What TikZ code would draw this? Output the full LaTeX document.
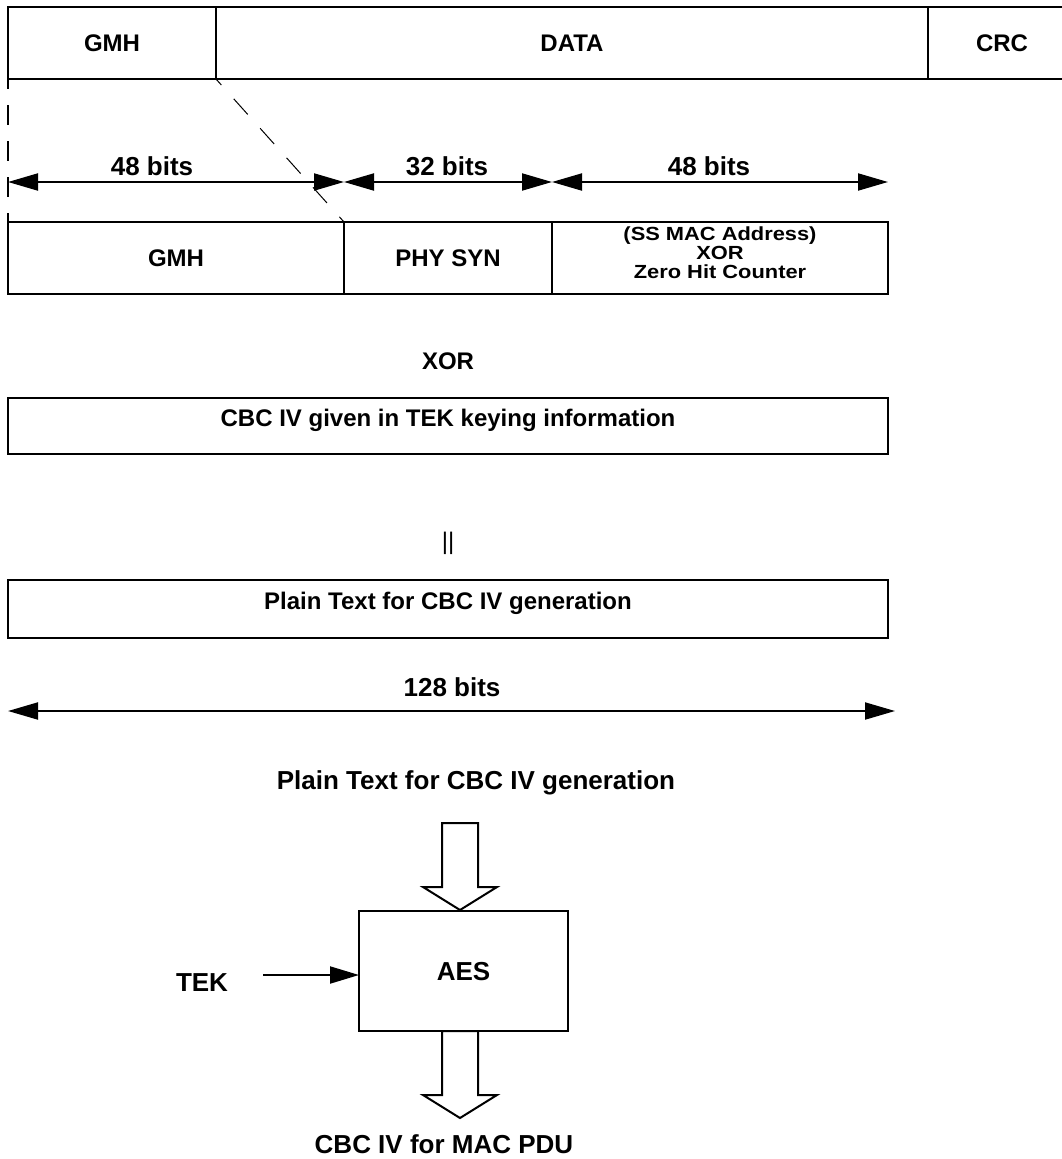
\documentclass[tikz,border=0pt]{standalone}
\usepackage{fontspec}
\setmainfont{Liberation Sans}
\newfontfamily\widesans{Liberation Sans}[FakeStretch=1.15]
\usetikzlibrary{arrows.meta,calc}
\begin{document}
\begin{tikzpicture}[x=1pt,y=-1pt,
  frame/.style={line width=2pt},
  cell/.style={draw, line width=2pt, inner sep=0pt, outer sep=0pt},
  opencell/.style={inner sep=0pt, outer sep=0pt},
  fA/.style={font=\fontsize{24}{28}\selectfont\bfseries},
  fB/.style={font=\fontsize{26}{30}\selectfont\bfseries},
  capA/.style={fA, text height=17.2pt, text depth=0pt},
  capB/.style={fB, text height=18.6pt, text depth=0pt},
  capS/.style={font=\widesans\fontsize{19}{22}\selectfont\bfseries, text height=13.6pt, text depth=0pt},
  upshift/.style={fA, text height=17.2pt, text depth=16pt},
  lab/.style={inner sep=0pt},
  dim/.style={line width=2pt, {Triangle[length=30pt,width=17pt]}-{Triangle[length=30pt,width=17pt]}},
  arr/.style={line width=2pt, -{Triangle[length=29pt,width=17pt]}},
  hollow/.style={draw, line width=2pt, fill=white, line join=miter}
]
\useasboundingbox (0,0) rectangle (1061,1159);

% top frame
\node[cell, capA, minimum width=208pt, minimum height=72pt] (tgmh) at (112,43) {GMH};
\node[cell, capA, minimum width=712pt, minimum height=72pt] (tdata) at (572,43) {DATA};
\node[opencell, capA, minimum width=148pt, minimum height=72pt] (tcrc) at (1002,43) {CRC};
\draw[frame] (tcrc.north east) -- (tcrc.north west) -- (tcrc.south west) -- (tcrc.south east);

% second row
\node[cell, capA, minimum width=336pt, minimum height=72pt] (bgmh) at (176,258) {GMH};
\node[cell, capA, minimum width=208pt, minimum height=72pt] (phy) at (448,258) {PHY SYN};
\node[cell, minimum width=336pt, minimum height=72pt] (ssmac) at (720,258) {};
\node[lab, capS] (ss1) at (720,234) {(SS MAC Address)};
\node[lab, capS] (ss2) at (720,253) {XOR};
\node[lab, capS] (ss3) at (720,272) {Zero Hit Counter};

% dashed guide lines
\draw[line width=2pt, dash pattern=on 20pt off 16pt, dash phase=10pt] (tgmh.south west) -- (bgmh.north west);
\draw[line width=1pt, dash pattern=on 21pt off 18.6pt, dash phase=13pt] (tgmh.south east) -- (bgmh.north east);

% dimension arrows
\coordinate (m0) at ($(bgmh.north west)+(0,-40)$);
\coordinate (m1) at ($(bgmh.north east)+(0,-40)$);
\coordinate (m2) at ($(phy.north east)+(0,-40)$);
\coordinate (m3) at ($(ssmac.north east)+(0,-40)$);
\draw[dim] (m0) -- (m1);
\draw[dim] (m1) -- (m2);
\draw[dim] (m2) -- (m3);
\node[lab, capB] (l48a) at (152,166) {48 bits};
\node[lab, capB] (l32) at (447,166) {32 bits};
\node[lab, capB] (l48b) at (709,166) {48 bits};

% XOR and CBC IV box
\node[lab, capA] (xor) at (448,361) {XOR};
\node[cell, upshift, minimum width=880pt, minimum height=56pt] (cbc) at (448,426) {CBC IV given in TEK keying information};
\node[lab, font=\fontsize{24}{28}\selectfont] (cat) at (448,543) {||};
\node[cell, upshift, minimum width=880pt, minimum height=58pt] (plain) at (448,609) {Plain Text for CBC IV generation};

% 128 bits
\coordinate (w0) at ($(plain.south west)+(0,73)$);
\coordinate (w1) at ($(plain.south east)+(7,73)$);
\draw[dim] (w0) -- (w1);
\node[lab, capB] (l128) at (452,687) {128 bits};

% AES block
\node[lab, capB] (ptitle) at (476,780) {Plain Text for CBC IV generation};
\node[cell, capB, minimum width=209pt, minimum height=120pt] (aes) at (463.5,971) {AES};
\coordinate (intip) at (460,910);
\coordinate (outtip) at (460,1118);
\draw[hollow] ($(intip)+(-18,-87)$) -- ($(intip)+(18,-87)$) -- ($(intip)+(18,-23)$) -- ($(intip)+(37,-23)$)
  -- (intip) -- ($(intip)+(-37,-23)$) -- ($(intip)+(-18,-23)$) -- cycle;
\draw[hollow] ($(outtip)+(-18,-87)$) -- ($(outtip)+(18,-87)$) -- ($(outtip)+(18,-23)$) -- ($(outtip)+(37,-23)$)
  -- (outtip) -- ($(outtip)+(-37,-23)$) -- ($(outtip)+(-18,-23)$) -- cycle;
\node[lab, capB] (tek) at (202,982) {TEK};
\coordinate (tekstart) at (263,975);
\draw[arr] (tekstart) -- (tekstart -| aes.west);
\node[lab, capB] (cbcout) at (444,1144) {CBC IV for MAC PDU};
\end{tikzpicture}
\end{document}
